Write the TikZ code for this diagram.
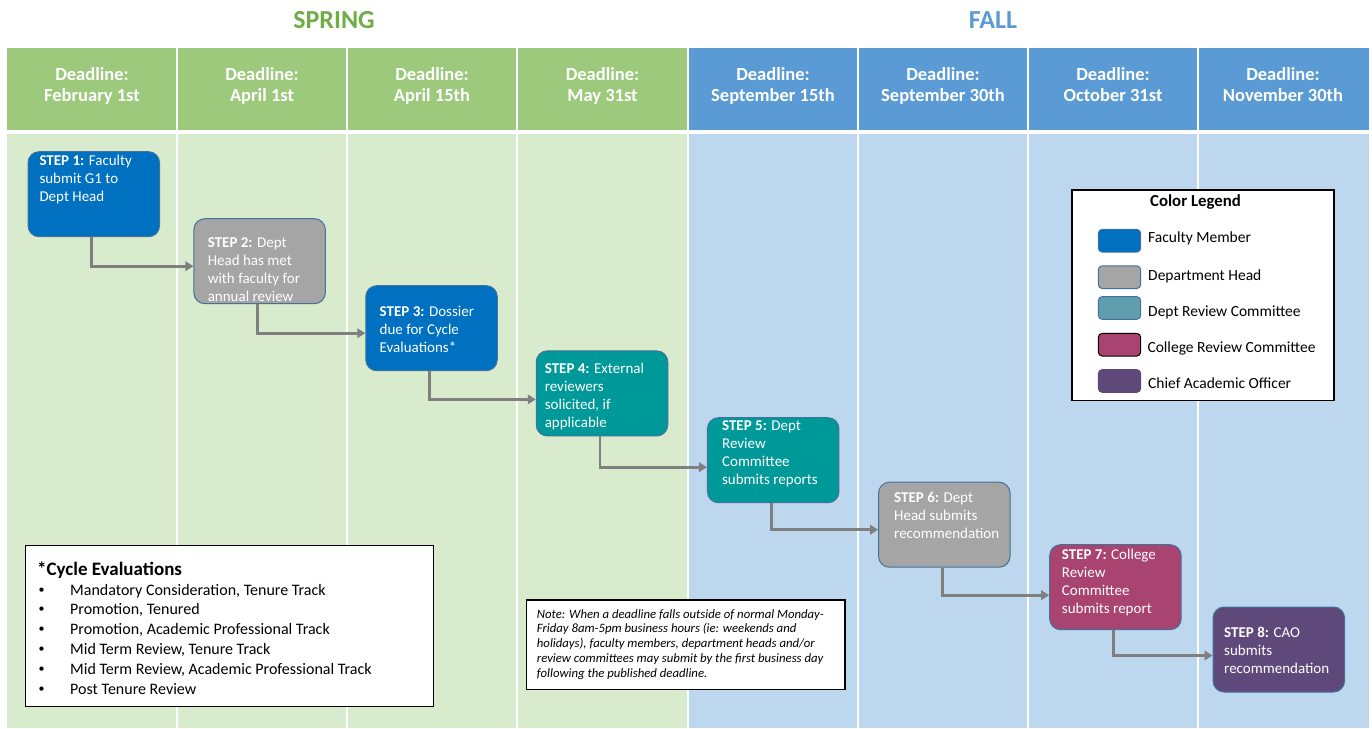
\documentclass[tikz,border=0pt]{standalone}
\usepackage{fontspec}
\setmainfont{Carlito}
\usetikzlibrary{arrows.meta}
\definecolor{hdrgreen}{HTML}{9DC97D}
\definecolor{hdrblue}{HTML}{5B9BD5}
\definecolor{bodygreen}{HTML}{D8EBCD}
\definecolor{bodyblue}{HTML}{BDD7EE}
\definecolor{springtxt}{HTML}{70AD47}
\definecolor{falltxt}{HTML}{5B9BD5}
\definecolor{facblue}{HTML}{0070C0}
\definecolor{headgray}{HTML}{A5A5A5}
\definecolor{drcteal}{HTML}{009999}
\definecolor{legteal}{HTML}{5F9EAF}
\definecolor{crcmag}{HTML}{A9436F}
\definecolor{caopurple}{HTML}{5F497A}
\definecolor{outline}{HTML}{41719C}
\definecolor{arrowgray}{HTML}{7F7F7F}
\tikzset{
  hdrtext/.style={text=white, font=\bfseries\fontsize{18.5}{21}\selectfont, align=center, anchor=base, inner sep=0pt},
  season/.style={font=\bfseries\fontsize{26}{30}\selectfont, anchor=base, inner sep=0pt},
  stepbox/.style={draw=outline, line width=1pt, rounded corners=11pt, minimum width=131.5pt, minimum height=85pt, inner sep=0pt},
  steptext/.style={text=white, font=\fontsize{15}{18}\selectfont, align=left, anchor=base west, inner sep=0pt},
  flow/.style={draw=arrowgray, line width=2.8pt, -{Triangle[length=8pt,width=9.5pt]}},
  swatch/.style={draw=outline, line width=1pt, rounded corners=4pt, minimum width=42.4pt, minimum height=22.7pt, inner sep=0pt},
  legtext/.style={font=\fontsize{15.5}{18}\selectfont, anchor=base west, inner sep=0pt},
  cyctext/.style={font=\fontsize{16}{19}\selectfont, anchor=base west, inner sep=0pt},
  panel/.style={draw=black, fill=white, inner sep=0pt},
}
\begin{document}
\begin{tikzpicture}[x=1pt,y=-1pt]
\useasboundingbox (0,0) rectangle (1372,728);
\fill[white] (0,0) rectangle (1372,728);
% header cells
\fill[hdrgreen] (7,48) rectangle (688,130);
\fill[hdrblue] (688,48) rectangle (1369,130);
% body
\fill[bodygreen] (7,134) rectangle (688,728);
\fill[bodyblue] (688,134) rectangle (1369,728);
\foreach \x in {177,347,517,688,858,1028,1198}{
  \draw[white, line width=2pt] (\x,48) -- (\x,130);
  \draw[white, line width=1.2pt] (\x,134) -- (\x,728);
}
% seasons
\node[season, text=springtxt] (spring) at (334,28.3) {SPRING};
\node[season, text=falltxt] (fall) at (993,28.3) {FALL};
% header texts (anchor = baseline of last line)
\node[hdrtext] (h1) at (92,101) {Deadline:\\February 1st};
\node[hdrtext] (h2) at (262,101) {Deadline:\\April 1st};
\node[hdrtext] (h3) at (432,101) {Deadline:\\April 15th};
\node[hdrtext] (h4) at (602.5,101) {Deadline:\\May 31st};
\node[hdrtext] (h5) at (773,101) {Deadline:\\September 15th};
\node[hdrtext] (h6) at (943,101) {Deadline:\\September 30th};
\node[hdrtext] (h7) at (1113,101) {Deadline:\\October 31st};
\node[hdrtext] (h8) at (1283,101) {Deadline:\\November 30th};
% step boxes
\node[stepbox, fill=facblue] (s1) at (93.8,194.2) {};
\node[stepbox, fill=headgray] (s2) at (259.6,261.2) {};
\node[stepbox, fill=facblue] (s3) at (431.5,328.2) {};
\node[stepbox, fill=drcteal] (s4) at (602,393.4) {};
\node[stepbox, fill=drcteal] (s5) at (773.2,460.2) {};
\node[stepbox, fill=headgray] (s6) at (944.3,524.7) {};
\node[stepbox, fill=crcmag] (s7) at (1115.4,587.2) {};
\node[stepbox, fill=caopurple] (s8) at (1278.8,649.5) {};
% step texts (anchor = baseline of last line)
\node[steptext] (t1) at (39.3,201) {\textbf{STEP 1:} Faculty\\submit G1 to\\Dept Head};
\node[steptext] (t2) at (207.6,301) {\textbf{STEP 2:} Dept\\Head has met\\with faculty for\\annual review};
\node[steptext] (t3) at (379.5,352) {\textbf{STEP 3:} Dossier\\due for Cycle\\Evaluations*};
\node[steptext] (t4) at (544.6,427) {\textbf{STEP 4:} External\\reviewers\\solicited, if\\applicable};
\node[steptext] (t5) at (721.9,484) {\textbf{STEP 5:} Dept\\Review\\Committee\\submits reports};
\node[steptext] (t6) at (894,538) {\textbf{STEP 6:} Dept\\Head submits\\recommendation};
\node[steptext] (t7) at (1061.7,613) {\textbf{STEP 7:} College\\Review\\Committee\\submits report};
\node[steptext] (t8) at (1224,673) {\textbf{STEP 8:} CAO\\submits\\recommendation};
% connectors
\draw[flow] ([xshift=-2pt]s1.south) |- ([yshift=-5pt]s2.west);
\draw[flow] ([xshift=-2pt]s2.south) |- ([yshift=-5pt]s3.west);
\draw[flow] ([xshift=-2pt]s3.south) |- ([yshift=-6pt]s4.west);
\draw[flow] ([xshift=-2pt]s4.south) |- ([yshift=-7pt]s5.west);
\draw[flow] ([xshift=-2pt]s5.south) |- ([yshift=-5pt]s6.west);
\draw[flow] ([xshift=-2pt]s6.south) |- ([yshift=-8pt]s7.west);
\draw[flow] ([xshift=-2pt]s7.south) |- ([yshift=-6pt]s8.west);
% legend
\node[panel, line width=1.3pt, minimum width=262pt, minimum height=210.7pt] (legend) at (1203,295.35) {};
\node[font=\bfseries\fontsize{16.8}{20}\selectfont, anchor=base, inner sep=0pt] (legtitle) at (1195.5,206) {Color Legend};
\node[swatch, fill=facblue] (w1) at (1119.5,240.7) {};
\node[swatch, fill=headgray] (w2) at (1119.5,277.2) {};
\node[swatch, fill=legteal] (w3) at (1119.5,308) {};
\node[swatch, fill=crcmag, draw=black] (w4) at (1119.5,344.7) {};
\node[swatch, fill=caopurple, draw=caopurple] (w5) at (1119.5,381) {};
\node[legtext] (l1) at (1148,242.7) {Faculty Member};
\node[legtext] (l2) at (1148,280) {Department Head};
\node[legtext] (l3) at (1148,316) {Dept Review Committee};
\node[legtext] (l4) at (1147.3,352.7) {College Review Committee};
\node[legtext] (l5) at (1148,388.3) {Chief Academic Officer};
% cycle evaluations box
\node[panel, line width=1pt, minimum width=408.3pt, minimum height=161.7pt] (cyc) at (229.15,625.85) {};
\node[font=\bfseries\fontsize{19}{22}\selectfont, anchor=base west, inner sep=0pt] (cyctitle) at (37,575) {*Cycle Evaluations};
\foreach \t [count=\i from 0] in {Mandatory Consideration{,} Tenure Track, Promotion{,} Tenured, Promotion{,} Academic Professional Track, Mid Term Review{,} Tenure Track, Mid Term Review{,} Academic Professional Track, Post Tenure Review}{
  \node[cyctext, font=\fontsize{12}{14}\selectfont] (cb\i) at (38.5,593+19.8*\i) {•};
  \node[cyctext] (ci\i) at (70,595+19.8*\i) {\t};
}
% note box
\node[panel, line width=1.2pt, minimum width=318.3pt, minimum height=89.3pt] (note) at (685.85,644.65) {};
\node[font=\itshape\fontsize{12.75}{14.8}\selectfont, align=left, anchor=base west, inner sep=0pt] (notetext) at (536.7,677.2) {Note: When a deadline falls outside of normal Monday-\\Friday 8am-5pm business hours (ie: weekends and\\holidays), faculty members, department heads and/or\\review committees may submit by the first business day\\following the published deadline.};
\end{tikzpicture}
\end{document}
